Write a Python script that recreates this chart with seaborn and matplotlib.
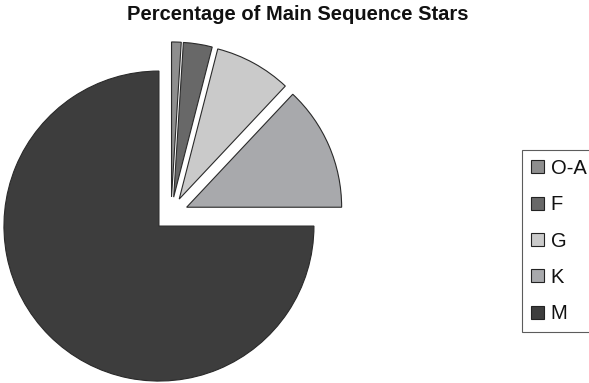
import matplotlib
matplotlib.use("Agg")
import matplotlib.pyplot as plt
from matplotlib.patches import Patch
import seaborn as sns

# Main sequence star classes and their share of all main sequence stars (%)
classes = ["O-A", "F", "G", "K", "M"]
percent = [1, 3, 8, 13, 75]
shades = ["#8e8e8e", "#686868", "#cacaca", "#a8a9ac", "#3d3d3d"]

sns.set_theme(style="white")
plt.rcParams["font.family"] = ["Liberation Sans", "DejaVu Sans"]
plt.rcParams["text.color"] = "#111111"

W, H = 589, 383
fig = plt.figure(figsize=(W / 100, H / 100), dpi=100)
fig.patch.set_facecolor("white")

# Pie centre at (171, 214) px from top-left, radius 155 px
R = 155.0
cx, cy = 171.0, H - 214.0
ax = fig.add_axes([0, 0, (2 * cx) / W, (2 * cy) / H])
palette = sns.color_palette(shades)
wedges, _ = ax.pie(
    percent,
    colors=palette,
    startangle=90,
    counterclock=False,
    explode=[0.11] * len(percent),
    wedgeprops=dict(edgecolor="#2a2a2a", linewidth=0.8),
)
for w in wedges:
    w.set_clip_on(False)
ax.set_xlim(-cx / R, cx / R)
ax.set_ylim(-cy / R, cy / R)
ax.set_aspect("auto")
ax.axis("off")

fig.text(298 / W, 1 - 14 / H, "Percentage of Main Sequence Stars",
         ha="center", va="center", fontsize=14.5, fontweight="bold", color="#111111")

handles = [Patch(facecolor=c, edgecolor="#222222", linewidth=0.8) for c in palette]
leg = fig.legend(
    handles, classes,
    loc="upper left",
    bbox_to_anchor=(522 / W, 1 - 150 / H),
    frameon=True,
    fontsize=14.5,
    labelcolor="#111111",
    handlelength=0.62,
    handleheight=0.62,
    handletextpad=0.35,
    labelspacing=0.86,
    borderpad=0.45,
    borderaxespad=0,
    fancybox=False,
)
leg.get_frame().set_edgecolor("#333333")
leg.get_frame().set_linewidth(0.8)

fig.savefig("out.png", dpi=100, facecolor="white")
